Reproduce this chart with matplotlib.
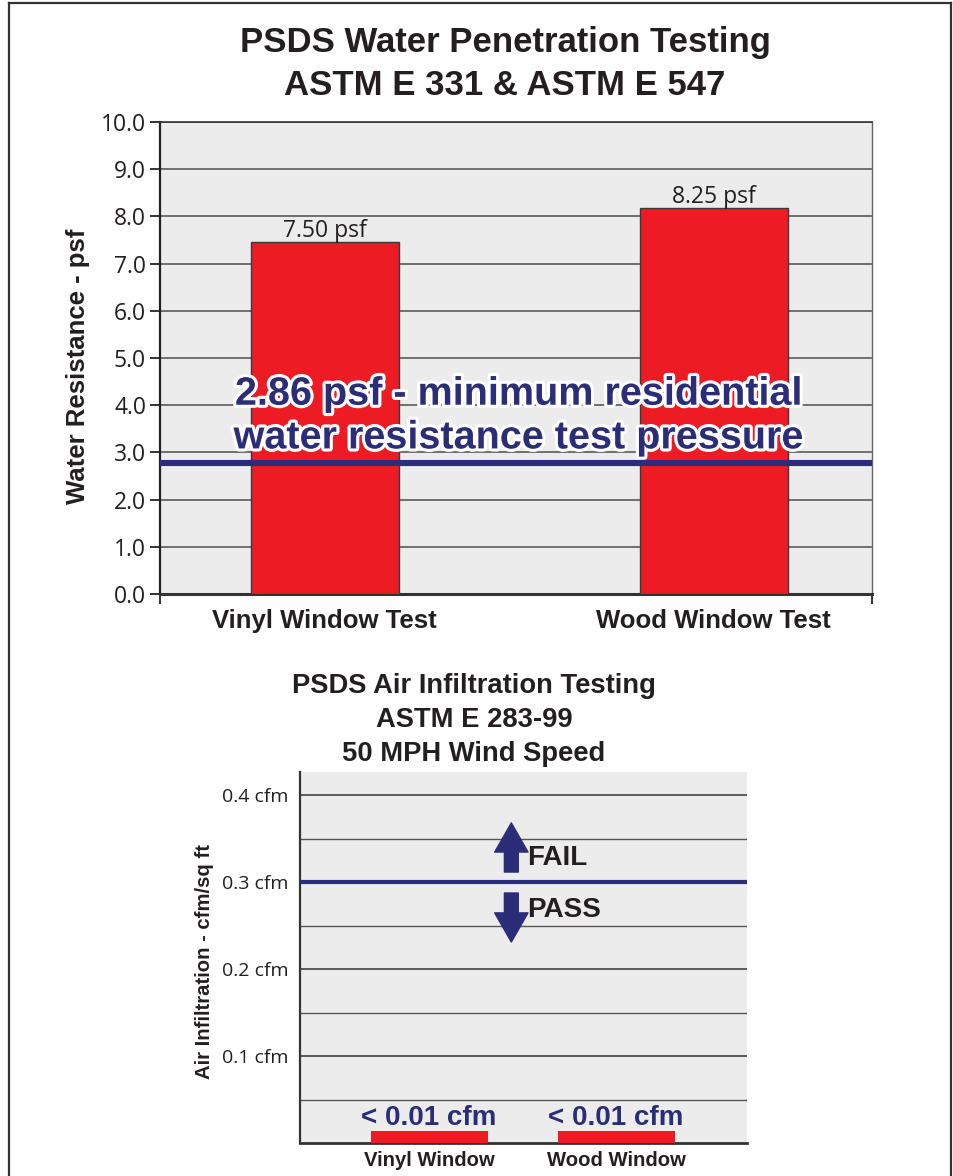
#!/usr/bin/env python3
"""PSDS water penetration and air infiltration test results, two stacked charts."""

import matplotlib

matplotlib.use("Agg")
import matplotlib.patheffects as pe
import matplotlib.pyplot as plt
from matplotlib.lines import Line2D
from matplotlib.ticker import FixedLocator, MultipleLocator

# --- data ---
water_categories = ["Vinyl Window Test", "Wood Window Test"]
water_values = [7.45, 8.17]
water_labels = ["7.50 psf", "8.25 psf"]
water_min = 2.78
water_min_text = "2.86 psf - minimum residential\nwater resistance test pressure"
water_yticks = [0.0, 1.0, 2.0, 3.0, 4.0, 5.0, 6.0, 7.0, 8.0, 9.0, 10.0]

air_categories = ["Vinyl Window", "Wood Window"]
air_values = [0.014, 0.014]
air_labels = ["< 0.01 cfm", "< 0.01 cfm"]
air_limit = 0.3
air_yticks = [0.1, 0.2, 0.3, 0.4]
air_yticklabels = ["0.1 cfm", "0.2 cfm", "0.3 cfm", "0.4 cfm"]

RED = "#ed1c24"
NAVY = "#2b2d78"
INK = "#231f20"
BG = "#ebeceb"
BOLD = "Liberation Sans"
REG = "Open Sans"

W, H = 954, 1176
fig = plt.figure(figsize=(W / 100, H / 100), dpi=100)


def frac(left, top, right, bottom):
    return [left / W, 1 - bottom / H, (right - left) / W, (bottom - top) / H]


# page border (top, left, right)
for xs, ys in [([9, 951], [3, 3]), ([9, 9], [3, H]), ([951, 951], [3, H])]:
    fig.add_artist(Line2D([x / W for x in xs], [1 - y / H for y in ys],
                          color="#333333", lw=1.6, transform=fig.transFigure))

# ---------------- water penetration ----------------
fig.text(505 / W, 1 - 64 / H,
         "PSDS Water Penetration Testing\nASTM E 331 & ASTM E 547",
         ha="center", va="center", fontsize=25, fontweight="bold",
         family=BOLD, color=INK, linespacing=1.4)

ax = fig.add_axes(frac(160, 122, 872, 594))
ax.set_facecolor(BG)
xs = list(range(len(water_categories)))
ax.bar(xs, water_values, width=0.38, color=RED, edgecolor="#3a3a3a",
       linewidth=1.0, zorder=3)
for x, v, lab in zip(xs, water_values, water_labels):
    ax.annotate(lab, (x, v), xytext=(0, 4), textcoords="offset points",
                ha="center", va="baseline", fontsize=16.5, family=REG,
                color=INK, zorder=4)

ax.axhline(water_min, color=NAVY, lw=4.4, zorder=4)
ax.text(0.5, 3.78, water_min_text, ha="center", va="center", fontsize=28.5,
        fontweight="bold", family=BOLD, color=NAVY, linespacing=1.19,
        zorder=5, path_effects=[pe.withStroke(linewidth=4.5, foreground="white")])

ax.set_xlim(-0.423, 1.407)
ax.set_ylim(0, 10)
ax.yaxis.set_major_locator(FixedLocator(water_yticks))
ax.set_yticklabels([f"{t:.1f}" for t in water_yticks], family=REG,
                   fontsize=16.5, color=INK)
ax.tick_params(axis="y", length=7, width=1.4, pad=3, color="#333333")
ax.yaxis.grid(True, color="#4d4d4d", lw=1.1, zorder=1)
ax.set_axisbelow(True)

ax.set_xticks(xs)
ax.set_xticklabels(water_categories, fontsize=18.5, fontweight="bold",
                   family=BOLD, color=INK)
ax.tick_params(axis="x", length=0, pad=11)
ax.xaxis.set_minor_locator(FixedLocator([-0.423, 1.407]))
ax.tick_params(axis="x", which="minor", length=7, width=1.4, color="#333333")

ax.set_ylabel("Water Resistance - psf", fontsize=18.5, fontweight="bold",
              family=BOLD, color=INK)
ax.yaxis.set_label_coords(-0.098, 0.483)

ax.spines["left"].set_color("#222222")
ax.spines["left"].set_linewidth(1.6)
ax.spines["bottom"].set_color("#333333")
ax.spines["bottom"].set_linewidth(2.2)
ax.spines["top"].set_color("#333333")
ax.spines["top"].set_linewidth(1.2)
ax.spines["right"].set_color("#666666")
ax.spines["right"].set_linewidth(1.0)

# ---------------- air infiltration ----------------
fig.text(474 / W, 1 - 720 / H,
         "PSDS Air Infiltration Testing\nASTM E 283-99\n50 MPH Wind Speed",
         ha="center", va="center", fontsize=19.7, fontweight="bold",
         family=BOLD, color=INK, linespacing=1.38)

ax2 = fig.add_axes(frac(300, 772, 747, 1143))
ax2.set_facecolor(BG)
xs2 = list(range(len(air_categories)))
ax2.bar(xs2, air_values, width=0.626, color=RED, zorder=3)
for x, v, lab in zip(xs2, air_values, air_labels):
    ax2.annotate(lab, (x, v), xytext=(0, 4.5), textcoords="offset points",
                 ha="center", va="baseline", fontsize=20, fontweight="bold",
                 family=BOLD, color=NAVY, zorder=4)

ax2.axhline(air_limit, color=NAVY, lw=3.0, zorder=4)

arrow = dict(arrowstyle="simple,head_length=1.05,head_width=1.2,tail_width=0.5",
             color=NAVY, shrinkA=0, shrinkB=0, mutation_scale=20)
ax2.annotate("", xy=(0.44, 0.368), xytext=(0.44, 0.3115), arrowprops=arrow, zorder=5)
ax2.annotate("", xy=(0.44, 0.231), xytext=(0.44, 0.2874), arrowprops=arrow, zorder=5)
ax2.text(0.524, 0.3195, "FAIL", ha="left", va="baseline", fontsize=20,
         fontweight="bold", family=BOLD, color=INK, zorder=5)
ax2.text(0.524, 0.2598, "PASS", ha="left", va="baseline", fontsize=20,
         fontweight="bold", family=BOLD, color=INK, zorder=5)

ax2.set_xlim(-0.69, 1.70)
ax2.set_ylim(0, 0.4265)
ax2.yaxis.set_major_locator(FixedLocator(air_yticks))
ax2.set_yticklabels(air_yticklabels, family=REG, fontsize=14, color=INK)
ax2.yaxis.set_minor_locator(MultipleLocator(0.05))
ax2.tick_params(axis="y", which="both", length=0, pad=8)
ax2.yaxis.grid(True, which="major", color="#333333", lw=1.1, zorder=1)
ax2.yaxis.grid(True, which="minor", color="#555555", lw=1.0, zorder=1)
ax2.set_axisbelow(True)

ax2.set_xticks(xs2)
ax2.set_xticklabels(air_categories, fontsize=14.6, fontweight="bold",
                    family=BOLD, color=INK)
ax2.tick_params(axis="x", length=0, pad=6)

ax2.set_ylabel("Air Infiltration - cfm/sq ft", fontsize=14.6,
               fontweight="bold", family=BOLD, color=INK)
ax2.yaxis.set_label_coords(-0.192, 0.488)

for side in ("top", "right"):
    ax2.spines[side].set_visible(False)
ax2.spines["left"].set_color("#333333")
ax2.spines["left"].set_linewidth(1.6)
ax2.spines["bottom"].set_color("#333333")
ax2.spines["bottom"].set_linewidth(2.0)

fig.savefig("out.png", dpi=100, facecolor="white")
